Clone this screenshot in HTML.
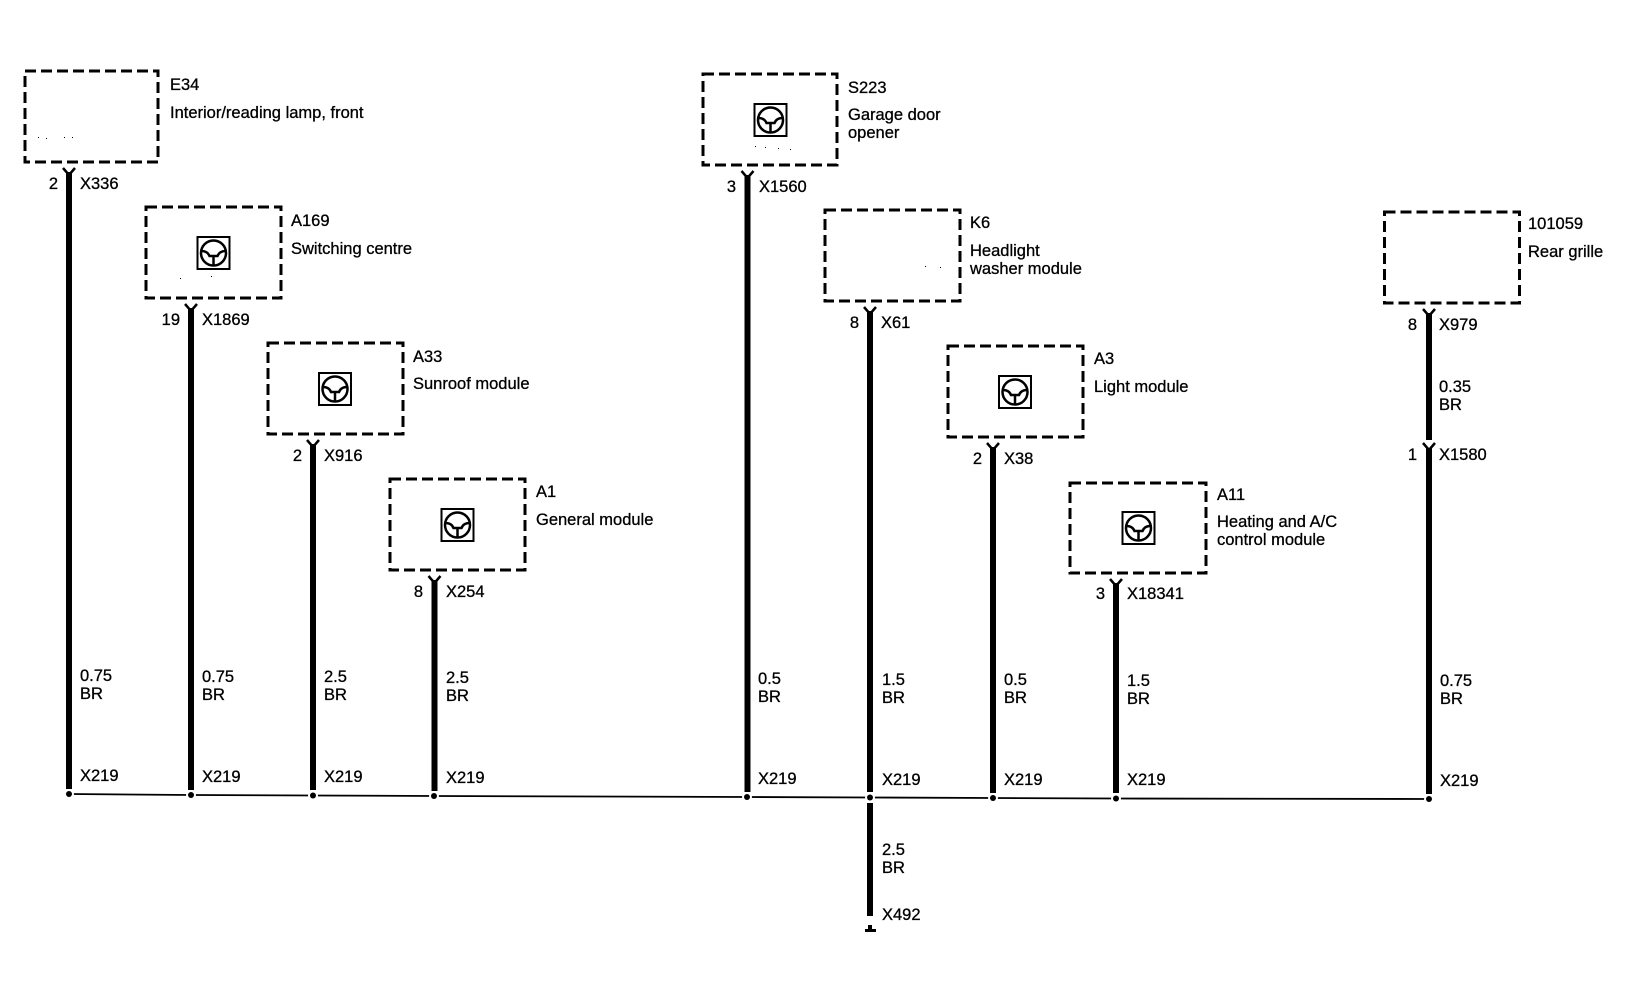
<!DOCTYPE html>
<html><head><meta charset="utf-8"><title>Wiring diagram</title>
<style>
html,body{margin:0;padding:0;background:#fff;width:1642px;height:992px;overflow:hidden}
svg{display:block}
text{font-family:"Liberation Sans",sans-serif;font-size:16.5px;fill:#000;stroke:#000;stroke-width:.3}
.b{fill:none;stroke:#000;stroke-width:3;stroke-dasharray:11 5}
.e{text-anchor:end}
.y{fill:none;stroke:#000;stroke-width:2.5}
</style></head><body>
<svg width="1642" height="992" viewBox="0 0 1642 992" xmlns="http://www.w3.org/2000/svg">
<defs>
<g id="i">
<rect x="-16" y="-16" width="32" height="32" fill="none" stroke="#000" stroke-width="2"/>
<circle r="12.5" fill="none" stroke="#000" stroke-width="2.5"/>
<path d="M-12,-2 Q-6,-2 -4,3 L4,3 Q6,-2 12,-2 M0,3 L0,12" fill="none" stroke="#000" stroke-width="2.5"/>
</g>
</defs>

<!-- bus -->
<polyline points="69,794 191,795 313,795.5 434,796 747,797 870,797.5 993,798 1116,798.5 1429,799" fill="none" stroke="#000" stroke-width="1.8"/>
<g fill="#fff">
<circle cx="69" cy="794" r="5"/><circle cx="191" cy="795" r="5"/><circle cx="313" cy="795.5" r="5"/><circle cx="434" cy="796" r="5"/><circle cx="747" cy="797" r="5"/><circle cx="870" cy="797.5" r="5"/><circle cx="993" cy="798" r="5"/><circle cx="1116" cy="798.5" r="5"/><circle cx="1429" cy="799" r="5"/>
</g>
<g fill="#000">
<circle cx="69" cy="794" r="3"/><circle cx="191" cy="795" r="3"/><circle cx="313" cy="795.5" r="3"/><circle cx="434" cy="796" r="3"/><circle cx="747" cy="797" r="3"/><circle cx="870" cy="797.5" r="3"/><circle cx="993" cy="798" r="3"/><circle cx="1116" cy="798.5" r="3"/><circle cx="1429" cy="799" r="3"/>
<!-- wires -->
<rect x="66" y="172" width="6" height="617"/>
<rect x="188" y="308" width="6" height="482"/>
<rect x="310" y="444" width="6" height="346"/>
<rect x="431.500" y="580" width="6" height="211"/>
<rect x="744.500" y="175" width="6" height="617"/>
<rect x="867" y="311" width="6" height="481"/>
<rect x="990" y="447" width="6" height="346"/>
<rect x="1113" y="583" width="6" height="210"/>
<rect x="1426" y="313" width="6" height="127"/>
<rect x="1426" y="448" width="6" height="346"/>
<rect x="867" y="803" width="6" height="113"/>
<rect x="868" y="925" width="4" height="5"/>
<rect x="865" y="929" width="11" height="3"/>
<!-- specks -->
<rect x="38" y="137" width="1" height="1"/><rect x="46" y="138" width="1" height="1"/><rect x="64" y="137" width="1" height="1"/><rect x="72" y="137" width="1" height="1"/>
<rect x="755" y="146" width="1" height="1"/><rect x="765" y="147" width="1" height="1"/><rect x="778" y="148" width="1" height="1"/><rect x="790" y="149" width="1" height="1"/>
<rect x="180" y="278" width="1" height="1"/><rect x="211" y="276" width="1" height="1"/>
<rect x="925" y="266" width="1" height="1"/><rect x="940" y="267" width="1" height="1"/>
</g>
<!-- connector Ys -->
<path class="y" d="M63,168 L69,175 L75,168"/>
<path class="y" d="M185,304 L191,311 L197,304"/>
<path class="y" d="M307,440 L313,447 L319,440"/>
<path class="y" d="M428.500,576 L434.500,583 L440.500,576"/>
<path class="y" d="M741.500,171 L747.500,178 L753.500,171"/>
<path class="y" d="M864,307 L870,314 L876,307"/>
<path class="y" d="M987,443 L993,450 L999,443"/>
<path class="y" d="M1110,579 L1116,586 L1122,579"/>
<path class="y" d="M1423,309 L1429,316 L1435,309"/>
<path class="y" d="M1423,443 L1429,450 L1435,443"/>

<!-- boxes -->
<rect class="b" x="25" y="71" width="133" height="91"/>
<rect class="b" x="146" y="207" width="135" height="91"/>
<rect class="b" x="268" y="343" width="135" height="91"/>
<rect class="b" x="390" y="479" width="135" height="91"/>
<rect class="b" x="703" y="74" width="134" height="91"/>
<rect class="b" x="825" y="210" width="135" height="91"/>
<rect class="b" x="948" y="346" width="135" height="91"/>
<rect class="b" x="1070" y="483" width="136" height="90"/>
<rect class="b" x="1384.500" y="212" width="135" height="91"/>

<!-- icons -->
<use href="#i" x="213.500" y="253"/>
<use href="#i" x="335" y="389"/>
<use href="#i" x="457.500" y="525"/>
<use href="#i" x="770.500" y="120"/>
<use href="#i" x="1015" y="392"/>
<use href="#i" x="1138.500" y="528"/>

<!-- component labels -->
<text x="170" y="90">E34</text>
<text x="170" y="118">Interior/reading lamp, front</text>
<text x="291" y="226">A169</text>
<text x="291" y="254">Switching centre</text>
<text x="413" y="362">A33</text>
<text x="413" y="389">Sunroof module</text>
<text x="536" y="497">A1</text>
<text x="536" y="525">General module</text>
<text x="848" y="93">S223</text>
<text x="848" y="120">Garage door</text>
<text x="848" y="138">opener</text>
<text x="970" y="228">K6</text>
<text x="970" y="256">Headlight</text>
<text x="970" y="274">washer module</text>
<text x="1094" y="364">A3</text>
<text x="1094" y="392">Light module</text>
<text x="1217" y="500">A11</text>
<text x="1217" y="527">Heating and A/C</text>
<text x="1217" y="545">control module</text>
<text x="1528" y="229">101059</text>
<text x="1528" y="257">Rear grille</text>

<!-- pin numbers and connectors -->
<text class="e" x="58" y="189">2</text><text x="80" y="189">X336</text>
<text class="e" x="180" y="325">19</text><text x="202" y="325">X1869</text>
<text class="e" x="302" y="461">2</text><text x="324" y="461">X916</text>
<text class="e" x="423" y="597">8</text><text x="446" y="597">X254</text>
<text class="e" x="736" y="192">3</text><text x="759" y="192">X1560</text>
<text class="e" x="859" y="328">8</text><text x="881" y="328">X61</text>
<text class="e" x="982" y="464">2</text><text x="1004" y="464">X38</text>
<text class="e" x="1105" y="599">3</text><text x="1127" y="599">X18341</text>
<text class="e" x="1417" y="330">8</text><text x="1439" y="330">X979</text>
<text x="1439" y="392">0.35</text><text x="1439" y="410">BR</text>
<text class="e" x="1417" y="460">1</text><text x="1439" y="460">X1580</text>

<!-- wire sizes -->
<text x="80" y="681">0.75</text><text x="80" y="699">BR</text><text x="80" y="781">X219</text>
<text x="202" y="682">0.75</text><text x="202" y="700">BR</text><text x="202" y="782">X219</text>
<text x="324" y="682">2.5</text><text x="324" y="700">BR</text><text x="324" y="782">X219</text>
<text x="446" y="683">2.5</text><text x="446" y="701">BR</text><text x="446" y="783">X219</text>
<text x="758" y="684">0.5</text><text x="758" y="702">BR</text><text x="758" y="784">X219</text>
<text x="882" y="685">1.5</text><text x="882" y="703">BR</text><text x="882" y="785">X219</text>
<text x="1004" y="685">0.5</text><text x="1004" y="703">BR</text><text x="1004" y="785">X219</text>
<text x="1127" y="686">1.5</text><text x="1127" y="704">BR</text><text x="1127" y="785">X219</text>
<text x="1440" y="686">0.75</text><text x="1440" y="704">BR</text><text x="1440" y="786">X219</text>
<text x="882" y="855">2.5</text><text x="882" y="873">BR</text>
<text x="882" y="920">X492</text>
</svg>
</body></html>
